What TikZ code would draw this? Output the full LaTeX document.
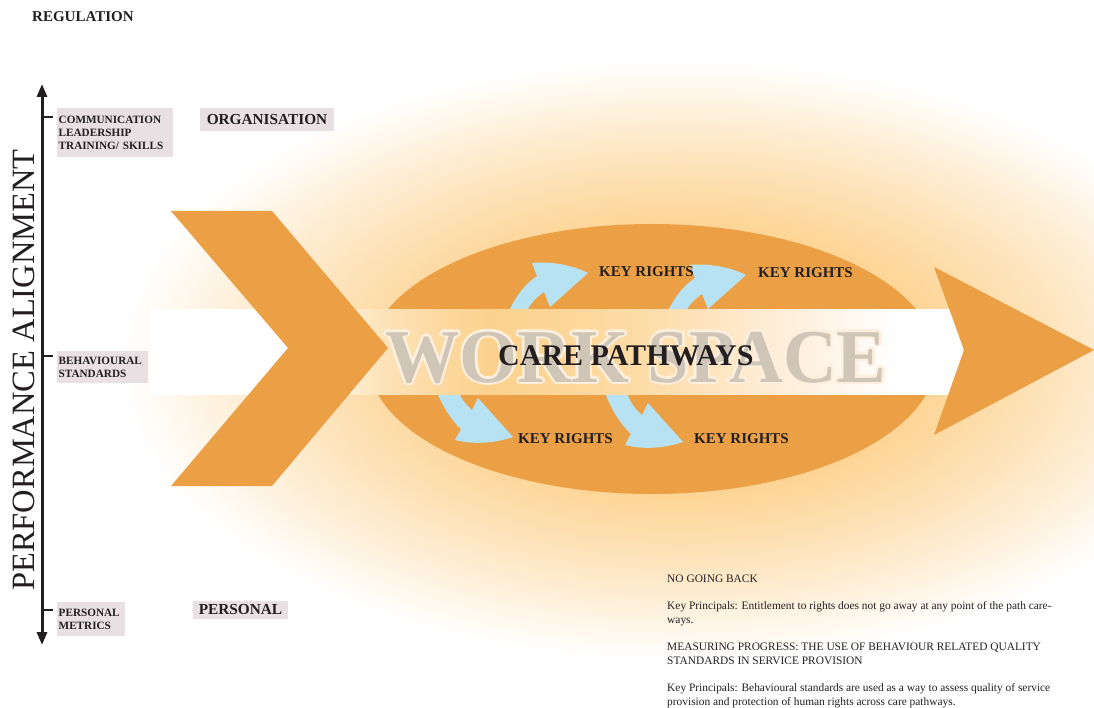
\documentclass[tikz,border=0pt]{standalone}
\usepackage{fontspec}
\setmainfont{Liberation Serif}
\usetikzlibrary{arrows.meta}
\definecolor{orng}{HTML}{EBA045}
\definecolor{kblue}{HTML}{B6E2F3}
\definecolor{lboxc}{HTML}{E8E0E2}
\definecolor{txt}{HTML}{231F20}
\definecolor{glowA}{HTML}{FCC46C}
\definecolor{glowB}{HTML}{FCCB7E}
\definecolor{glowC}{HTML}{FDDCA8}
\definecolor{glowD}{HTML}{FEEED6}
\definecolor{bandA}{HTML}{FDE3BA}
\definecolor{bandB}{HTML}{FCD18C}
\definecolor{bandC}{HTML}{FDDCA6}
\definecolor{bandD}{HTML}{FEEEDA}
\definecolor{wsfill}{HTML}{D0C6B8}
\definecolor{wshalo}{HTML}{FCEFDD}
\pgfdeclareradialshading{glowshade}{\pgfpoint{0bp}{0bp}}{color(0bp)=(glowA); color(7.5bp)=(glowB); color(14bp)=(glowC); color(20bp)=(glowD); color(25bp)=(white); color(50bp)=(white)}
\pgfdeclarehorizontalshading{bandshade}{100bp}{color(0bp)=(white); color(34.2bp)=(white); color(39.1bp)=(bandA); color(45.9bp)=(bandB); color(55.1bp)=(bandC); color(64bp)=(bandD); color(71bp)=(white); color(100bp)=(white)}
\tikzset{
  lbl/.style={fill=lboxc, inner xsep=1.5pt, inner ysep=0pt, font=\bfseries\fontsize{11.2}{13}\selectfont, text=txt, align=left},
  bigl/.style={fill=lboxc, inner sep=0pt, font=\bfseries\fontsize{15.3}{17}\selectfont, text=txt},
  kr/.style={font=\bfseries\fontsize{15}{17}\selectfont, text=txt, anchor=base west, inner sep=0pt},
  note/.style={font=\fontsize{11.4}{14}\selectfont, text=txt, anchor=base west, align=left, inner sep=0pt},
  axisline/.style={line width=3pt, draw=txt, {Triangle[length=13pt,width=10pt]}-{Triangle[length=13pt,width=10pt]}},
  tickline/.style={line width=2.5pt, draw=txt},
  wstext/.style={font=\bfseries\fontsize{76}{80}\selectfont, anchor=base west, inner sep=0pt}
}
\newcommand\wsword{\scalebox{0.98}[1]{WORK SPACE}}
\begin{document}
\begin{tikzpicture}[x=1pt,y=-1pt]
\useasboundingbox (0,0) rectangle (1094,708);
\clip (0,0) rectangle (1094,708);
\fill[white] (0,0) rectangle (1094,708);
% glow
\shade[shading=glowshade] (680,360) ellipse [x radius=560pt, y radius=300pt];
% oval
\fill[orng] (652,359) ellipse [x radius=284pt, y radius=135pt];
% blue curved arrows (upper)
\foreach \sx/\sy in {0/0, 158/2}{
  \begin{scope}[shift={(\sx,\sy)}]
  \fill[kblue] (506,318) .. controls (515,296) and (525,284) .. (537,276) -- (532,263)
    .. controls (550,261) and (572,265) .. (588,273) -- (550,307) -- (544,292)
    .. controls (535,298) and (528,306) .. (524,318) -- cycle;
  \end{scope}
}
% blue curved arrows (lower)
\foreach \sx/\sy in {0/0, 170/5}{
  \begin{scope}[shift={(\sx,\sy)}]
  \fill[kblue] (435,388) .. controls (442,405) and (450,419) .. (461,429) -- (455,440)
    .. controls (475,445) and (495,443) .. (513,437) -- (478,398) -- (472,410)
    .. controls (465,404) and (460,397) .. (457,388) -- cycle;
  \end{scope}
}
% band
\shade[shading=bandshade] (150,310) rectangle (963,394);
% chevron and right arrow
\fill[orng] (171,211) -- (272,211) -- (388,348) -- (272,486) -- (171,486) -- (288,348) -- cycle;
\fill[orng] (934,267) -- (1094,350) -- (934,435) -- (964,350) -- cycle;
% WORK SPACE with halo
\foreach \dx/\dy [count=\i] in {2.5/0,-2.5/0,0/2.5,0/-2.5,1.8/1.8,-1.8/1.8,1.8/-1.8,-1.8/-1.8}{
  \node[wstext, text=wshalo] (wsh\i) at (385+\dx,382+\dy) {\wsword};
}
\node[wstext, text=wsfill] (ws) at (385,382) {\wsword};
\node[font=\bfseries\fontsize{30}{34}\selectfont, text=txt, anchor=base west, inner sep=0pt] (care) at (498,365) {CARE PATHWAYS};
% key rights
\node[kr] (kr1) at (599,277) {KEY RIGHTS};
\node[kr] (kr2) at (758,278) {KEY RIGHTS};
\node[kr] (kr3) at (518,443) {KEY RIGHTS};
\node[kr] (kr4) at (694,443) {KEY RIGHTS};
% regulation
\node[font=\bfseries\fontsize{15}{17}\selectfont, text=txt, anchor=base west, inner sep=0pt] (reg) at (32,22) {REGULATION};
% axis
\coordinate (atop) at (42,84);
\coordinate (abot) at (42,645);
\draw[axisline] (abot) -- (atop);
\coordinate (t1a) at (42,117); \coordinate (t1b) at (53,117);
\coordinate (t2a) at (42,356); \coordinate (t2b) at (53,356);
\coordinate (t3a) at (42,610); \coordinate (t3b) at (53,610);
\draw[tickline] (t1a) -- (t1b);
\draw[tickline] (t2a) -- (t2b);
\draw[tickline] (t3a) -- (t3b);
\node[rotate=90, font=\fontsize{32.5}{36}\selectfont, text=txt, anchor=base, inner sep=0pt] (perf) at (34,370) {PERFORMANCE ALIGNMENT};
% label boxes
\node[lbl, anchor=north west, minimum width=116pt, minimum height=49pt, text width=113pt] (comm) at (57,108) {COMMUNICATION\\LEADERSHIP\\TRAINING/ SKILLS};
\node[bigl, minimum width=134pt, minimum height=23pt] (org) at (267,119.5) {ORGANISATION};
\node[lbl, anchor=north west, minimum width=91pt, minimum height=32pt, text width=88pt] (beh) at (57,351) {BEHAVIOURAL\\STANDARDS};
\node[lbl, anchor=north west, minimum width=68pt, minimum height=34pt, text width=65pt] (pm) at (57,602) {PERSONAL\\METRICS};
\node[bigl, minimum width=95pt, minimum height=18pt] (pers) at (240.5,610) {PERSONAL};
% notes (base anchor = baseline of last line)
\node[note] (n1) at (667,582) {NO GOING BACK};
\node[note] (n2) at (667,623) {Key Principals: Entitlement to rights does not go away at any point of the path care-\\ways.};
\node[note] (n3) at (667,664) {MEASURING PROGRESS: THE USE OF BEHAVIOUR RELATED QUALITY\\STANDARDS IN SERVICE PROVISION};
\node[note] (n4) at (667,705) {Key Principals: Behavioural standards are used as a way to assess quality of service\\provision and protection of human rights across care pathways.};
\end{tikzpicture}
\end{document}
